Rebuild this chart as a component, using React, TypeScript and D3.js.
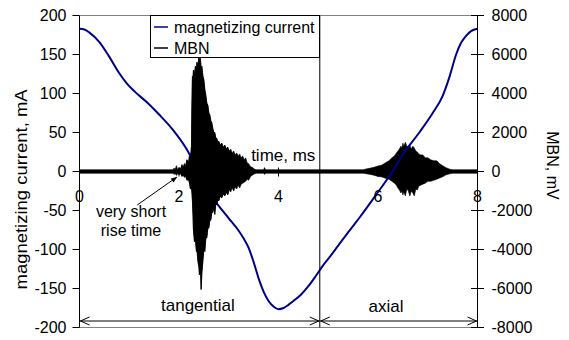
import React from "react";
import * as d3 from "d3";

// ---------- data ----------
const xTicks = [0, 2, 4, 6, 8];
const leftTicks = [200, 150, 100, 50, 0, -50, -100, -150, -200];
const rightTicks = [8000, 6000, 4000, 2000, 0, -2000, -4000, -6000, -8000];

// magnetizing current (mA) vs time (ms)
const currentTime = [0, 0.1, 0.2, 0.4, 0.6, 0.8, 0.95, 1.1, 1.35, 1.6, 1.87, 2.14, 2.28, 2.45, 2.68, 2.81, 3.0, 3.2, 3.3, 3.4, 3.5, 3.6, 3.7, 3.8, 3.9, 4.0, 4.1, 4.2, 4.3, 4.45, 4.6, 4.76, 4.9, 5.0, 5.2, 5.4, 5.63, 5.96, 6.27, 6.5, 6.83, 7.1, 7.3, 7.44, 7.57, 7.67, 7.77, 7.87, 8.0];
const currentMA = [183, 182, 178, 166, 147, 126, 113, 103, 89, 73, 54, 30, 14, -5, -34, -45, -60, -76, -86, -98, -116, -137, -154, -166, -173, -176.5, -175, -171, -166, -158, -147, -133, -120, -112, -95, -78, -59, -30, -2, 22, 50, 75, 97, 122, 150, 165, 174, 180, 183];

// MBN envelope (mV)
const mbnTime = [0, 1.88, 1.9, 1.92, 1.95, 1.97, 2.0, 2.03, 2.06, 2.08, 2.11, 2.13, 2.16, 2.19, 2.21, 2.23, 2.25, 2.26, 2.27, 2.28, 2.29, 2.31, 2.33, 2.35, 2.36, 2.38, 2.4, 2.41, 2.43, 2.445, 2.46, 2.48, 2.5, 2.52, 2.54, 2.56, 2.58, 2.6, 2.62, 2.64, 2.66, 2.68, 2.7, 2.72, 2.74, 2.76, 2.78, 2.8, 2.83, 2.86, 2.89, 2.92, 2.95, 2.98, 3.01, 3.04, 3.07, 3.1, 3.13, 3.16, 3.19, 3.22, 3.25, 3.28, 3.31, 3.34, 3.37, 3.4, 3.44, 3.48, 3.52, 3.56, 3.7, 3.72, 3.74, 5.7, 5.8, 5.9, 6.0, 6.08, 6.15, 6.22, 6.28, 6.33, 6.37, 6.4, 6.43, 6.46, 6.48, 6.5, 6.52, 6.55, 6.58, 6.61, 6.64, 6.67, 6.7, 6.73, 6.76, 6.79, 6.82, 6.86, 6.9, 6.95, 7.0, 7.06, 7.12, 7.18, 7.24, 7.3, 7.36, 7.44, 7.5, 8.0];
const mbnUpper = [90, 90, 180, 100, 300, 100, 200, 120, 350, 150, 400, 250, 600, 450, 800, 700, 1300, 3600, 4900, 4700, 5200, 5000, 5400, 5200, 5600, 5400, 5900, 5700, 5800, 5300, 5400, 4900, 4700, 4200, 3900, 3500, 3400, 3000, 2900, 2600, 2500, 2200, 2000, 2000, 1700, 1700, 1500, 1550, 1350, 1450, 1250, 1350, 1150, 1250, 1050, 1150, 950, 1050, 850, 950, 800, 900, 700, 800, 600, 700, 450, 400, 250, 200, 120, 90, 90, 200, 90, 90, 150, 200, 280, 330, 450, 550, 700, 800, 950, 1050, 1150, 1300, 1200, 1450, 1300, 1500, 1300, 1250, 1350, 1150, 1300, 1200, 1050, 1000, 900, 850, 850, 700, 700, 600, 550, 550, 400, 300, 200, 120, 90, 90];
const mbnLower = [-90, -90, -150, -100, -200, -120, -160, -100, -250, -150, -300, -200, -450, -400, -600, -900, -800, -1100, -1500, -2200, -3000, -3600, -3500, -4100, -4000, -4600, -4900, -5300, -5000, -6050, -5200, -4600, -4000, -4100, -3400, -3400, -2900, -2900, -2500, -2500, -2100, -2100, -1850, -2200, -1650, -1700, -1450, -1500, -1250, -1350, -1150, -1250, -1050, -1200, -950, -1050, -850, -1000, -800, -900, -700, -850, -650, -600, -550, -500, -400, -450, -250, -180, -120, -90, -90, -150, -90, -90, -130, -180, -250, -280, -350, -400, -500, -600, -700, -850, -950, -1100, -1000, -1200, -1050, -1250, -900, -1000, -1250, -1000, -1100, -1250, -900, -950, -750, -700, -650, -600, -500, -500, -450, -400, -330, -270, -180, -120, -90, -90];

const dividerTime = 4.83;
const xTitle = "time, ms";
const leftTitle = "magnetizing current, mA";
const rightTitle = "MBN, mV";
const legendLabels = ["magnetizing current", "MBN"];
const sectionLabels = ["tangential", "axial"];
const noteLines = ["very short", "rise time"];

// ---------- layout ----------
const W = 569;
const H = 340;
const L = 79.5;
const R = 477.5;
const T = 15.5;
const B = 327.5;
const FONT = "'Liberation Sans', Arial, sans-serif";
const FS = 16;
const NAVY = "#00008b";

export default function App() {
  const x = d3.scaleLinear().domain([0, 8]).range([L, R]);
  const yL = d3.scaleLinear().domain([-200, 200]).range([B, T]);
  const yR = d3.scaleLinear().domain([-8000, 8000]).range([B, T]);

  const mbnIdx = d3.range(mbnTime.length);
  const mbnArea = d3
    .area<number>()
    .x((i) => x(mbnTime[i]))
    .y0((i) => yR(mbnLower[i]))
    .y1((i) => yR(mbnUpper[i]))(mbnIdx) as string;

  const curIdx = d3.range(currentTime.length);
  const curLine = d3
    .line<number>()
    .x((i) => x(currentTime[i]))
    .y((i) => yL(currentMA[i]))
    .curve(d3.curveMonotoneX)(curIdx) as string;

  const y0 = yL(0);
  const xd = x(dividerTime);
  const arrowY = B - 6.5;

  const chevL = (px: number) => `M${px + 9},${arrowY - 4}L${px},${arrowY}L${px + 9},${arrowY + 4}`;
  const chevR = (px: number) => `M${px - 9},${arrowY - 4}L${px},${arrowY}L${px - 9},${arrowY + 4}`;

  // annotation arrow (data coords)
  const a0 = [x(1.16), yL(-43)];
  const a1 = [x(1.96), yL(-7)];
  const ang = Math.atan2(a1[1] - a0[1], a1[0] - a0[0]);
  const hl = 6;
  const hw = 2.5;
  const head = `M${a1[0]},${a1[1]}L${a1[0] - hl * Math.cos(ang) + hw * Math.sin(ang)},${a1[1] - hl * Math.sin(ang) - hw * Math.cos(ang)}L${a1[0] - hl * Math.cos(ang) - hw * Math.sin(ang)},${a1[1] - hl * Math.sin(ang) + hw * Math.cos(ang)}Z`;

  return (
    <svg
      width={W}
      height={H}
      style={{ position: "absolute", left: 0, top: 0, background: "#fff" }}
      fontFamily={FONT}
      fontSize={FS}
    >
      <defs>
        <clipPath id="tang">
          <rect x={x(2.0)} y={T} width={x(3.0) - x(2.0)} height={B - T} />
        </clipPath>
      </defs>
      <rect x={0} y={0} width={W} height={H} fill="#fff" />
      {/* plot border top / bottom */}
      <line x1={L} x2={R} y1={T} y2={T} stroke="#808080" />
      <line x1={L} x2={R} y1={B} y2={B} stroke="#808080" />

      {/* x axis at zero */}
      <line x1={L} x2={R} y1={y0} y2={y0} stroke="#000" />
      {xTicks.map((t) => (
        <line key={"xt" + t} x1={x(t)} x2={x(t)} y1={y0 - 4} y2={y0 + 5} stroke="#000" />
      ))}

      {/* MBN */}
      <path d={mbnArea} fill="#000" stroke="#000" strokeWidth={0.6} />
      {/* current */}
      <path d={curLine} fill="none" stroke={NAVY} strokeWidth={2} />
      {/* dense tangential burst drawn over the current line */}
      <path d={mbnArea} fill="#000" stroke="#000" strokeWidth={0.6} clipPath="url(#tang)" />

      {/* x tick labels */}
      {xTicks.map((t) => (
        <text key={"xl" + t} x={x(t)} y={y0 + 30} textAnchor="middle" fill="#000">
          {t}
        </text>
      ))}
      <text x={x(3.45)} y={y0 - 10.5} fill="#000" fontSize={17}>{xTitle}</text>

      {/* left axis */}
      <line x1={L} x2={L} y1={T} y2={B} stroke="#000" />
      {leftTicks.map((v) => (
        <g key={"lt" + v}>
          <line x1={L - 7} x2={L} y1={yL(v)} y2={yL(v)} stroke="#000" />
          <text x={L - 13} y={yL(v) + 5.5} textAnchor="end" fill="#000">
            {v}
          </text>
        </g>
      ))}
      <text
        transform={`translate(27,${yL(-23)}) rotate(-90)`}
        textAnchor="middle"
        fill="#000"
        textLength={200}
        lengthAdjust="spacingAndGlyphs"
      >
        {leftTitle}
      </text>

      {/* right axis */}
      <line x1={R} x2={R} y1={T} y2={B} stroke="#000" />
      {rightTicks.map((v) => (
        <g key={"rt" + v}>
          <line x1={R - 6.5} x2={R + 6.5} y1={yR(v)} y2={yR(v)} stroke="#000" />
          <text x={R + 14} y={yR(v) + 5.5} fill="#000">
            {v}
          </text>
        </g>
      ))}
      <text
        transform={`translate(547,${(T + B) / 2 - 6}) rotate(90)`}
        textAnchor="middle"
        fill="#000"
      >
        {rightTitle}
      </text>

      {/* divider */}
      <line x1={xd} x2={xd} y1={T} y2={B} stroke="#000" />

      {/* section arrows */}
      <line x1={L} x2={xd} y1={arrowY} y2={arrowY} stroke="#000" />
      <line x1={xd} x2={R} y1={arrowY} y2={arrowY} stroke="#000" />
      <path d={chevL(L + 1) + chevR(xd - 1) + chevL(xd + 1) + chevR(R - 1)} fill="none" stroke="#000" />
      <text x={x(2.38)} y={arrowY - 10} textAnchor="middle" fill="#000" fontSize={17}>
        {sectionLabels[0]}
      </text>
      <text x={x(6.16)} y={arrowY - 9} textAnchor="middle" fill="#000" fontSize={17}>
        {sectionLabels[1]}
      </text>

      {/* annotation */}
      <line x1={a0[0]} y1={a0[1]} x2={a1[0]} y2={a1[1]} stroke="#000" />
      <path d={head} fill="#000" />
      <text x={131} y={217} textAnchor="middle" fill="#000">{noteLines[0]}</text>
      <text x={131} y={235.5} textAnchor="middle" fill="#000">{noteLines[1]}</text>

      {/* legend */}
      <rect x={150.5} y={T} width={169} height={42} fill="#fff" stroke="#000" />
      <line x1={154} x2={168} y1={27} y2={27} stroke={NAVY} strokeWidth={1.5} />
      <line x1={154} x2={168} y1={48} y2={48} stroke="#000" strokeWidth={1.5} />
      <text x={174} y={32.5} fill="#000">{legendLabels[0]}</text>
      <text x={174} y={53.5} fill="#000">{legendLabels[1]}</text>
    </svg>
  );
}
